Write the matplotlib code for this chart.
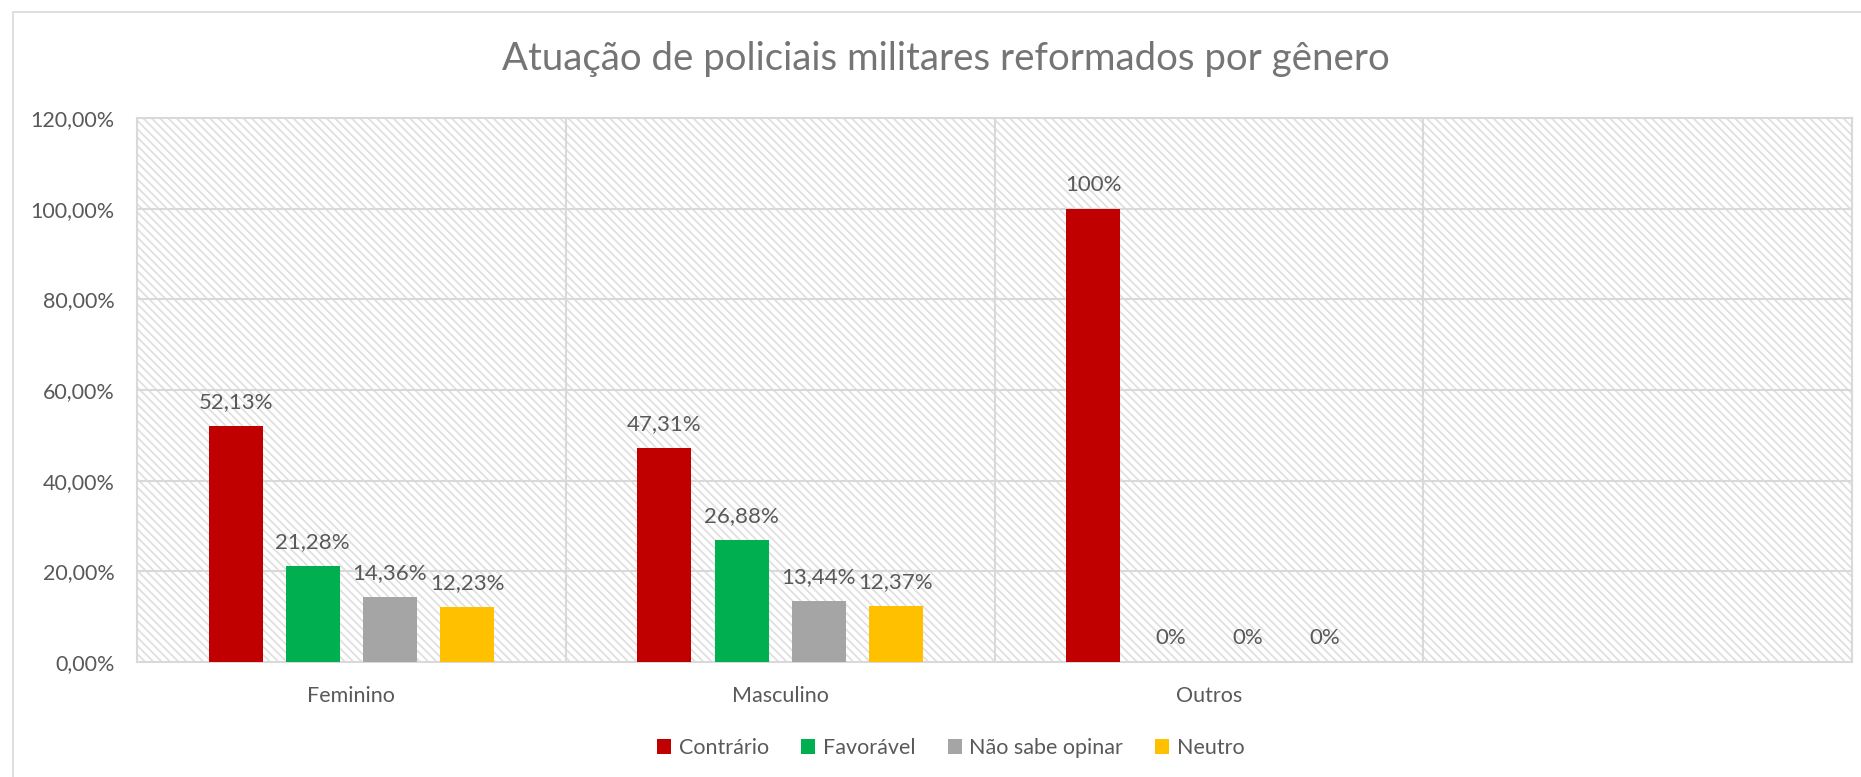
import numpy as np
import matplotlib
matplotlib.use("Agg")
import matplotlib.pyplot as plt
from matplotlib.patches import Rectangle, Patch

# data
categorias = ["Feminino", "Masculino", "Outros", ""]
series = ["Contrário", "Favorável", "Não sabe opinar", "Neutro"]
contrario = [52.13, 47.31, 100.0]
favoravel = [21.28, 26.88, 0.0]
nao_sabe = [14.36, 13.44, 0.0]
neutro = [12.23, 12.37, 0.0]
cores = ["#C00000", "#00B050", "#A5A5A5", "#FFC000"]
yticks = [0, 20, 40, 60, 80, 100, 120]

plt.rcParams['font.family'] = ['Lato', 'DejaVu Sans']
plt.rcParams['hatch.linewidth'] = 1.3
txt = "#595959"
grid = "#D9D9D9"

fig = plt.figure(figsize=(18.61, 7.77), dpi=100)
ax = fig.add_axes([137/1861, 1 - 662/777, (1852-137)/1861, (662-118)/777])

# outer chart border
fig.patches.append(Rectangle((13/1861, -0.5), 2, 0.5 + (777-12)/777, transform=fig.transFigure,
                             fill=False, edgecolor=grid, lw=1.2))

# hatched plot area
ax.add_patch(Rectangle((0, 0), 1, 1, transform=ax.transAxes, facecolor="white",
                       edgecolor="#E0E0E0", hatch="\\\\\\\\", lw=0, zorder=0))

x = np.arange(len(categorias))
width = 0.126
step = 0.18
valores = [contrario, favoravel, nao_sabe, neutro]
for i, (nome, vals, cor) in enumerate(zip(series, valores, cores)):
    pos = x[:len(vals)] + (i - 1.5) * step
    bars = ax.bar(pos, vals, width, color=cor, label=nome, zorder=3)
    for b, v in zip(bars, vals):
        if float(v).is_integer():
            lab = "%d%%" % v
        else:
            lab = ("%.2f%%" % v).replace(".", ",")
        ax.annotate(lab, (b.get_x() + b.get_width()/2, v), xytext=(0, 10),
                    textcoords="offset points", ha="center", va="bottom",
                    fontsize=16, color=txt, zorder=4)

ax.set_xlim(-0.5, len(categorias) - 0.5)
ax.set_ylim(0, 120)
ax.set_yticks(yticks)
ax.set_yticklabels([("%.2f%%" % t).replace(".", ",") for t in yticks])
ax.set_xticks(x)
ax.set_xticklabels(categorias)
ax.tick_params(axis="both", length=0, labelsize=15.5, labelcolor=txt)
ax.tick_params(axis="y", pad=16)
ax.tick_params(axis="x", pad=17)

for t in yticks[1:-1]:
    ax.axhline(t, color=grid, lw=1.5, zorder=1)
for b in x[:-1] + 0.5:
    ax.axvline(b, color=grid, lw=1.5, zorder=1)
for s in ax.spines.values():
    s.set_color(grid)
    s.set_linewidth(1.5)

fig.text(946/1861, 1 - 59/777, "Atuação de policiais militares reformados por gênero",
         ha="center", va="center", fontsize=27.6, color="#757575")

handles = [Patch(facecolor=c, label=n) for c, n in zip(cores, series)]
fig.legend(handles=handles, loc="center", bbox_to_anchor=(951/1861, 29/777), ncol=4,
           frameon=False, fontsize=15.5, labelcolor=txt, handlelength=0.65, handleheight=0.65,
           handletextpad=0.35, columnspacing=1.5)

fig.savefig("out.png", dpi=100)
